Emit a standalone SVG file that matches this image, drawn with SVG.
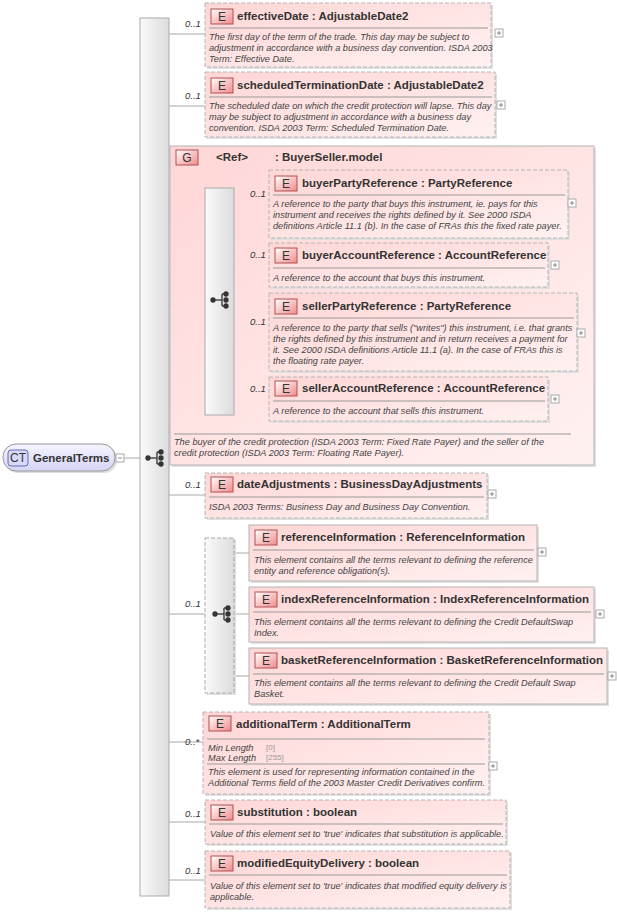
<svg xmlns="http://www.w3.org/2000/svg" width="617" height="914" viewBox="0 0 617 914">
<defs>
<linearGradient id="pk" x1="0" y1="0" x2="1" y2="1"><stop offset="0" stop-color="#ffd6d6"/><stop offset="1" stop-color="#fff1f1"/></linearGradient>
<linearGradient id="bar" x1="0" y1="0" x2="1" y2="0"><stop offset="0" stop-color="#fafafa"/><stop offset="1" stop-color="#dcdcdc"/></linearGradient>
<linearGradient id="eb" x1="0" y1="0" x2="1" y2="1"><stop offset="0" stop-color="#fff"/><stop offset="1" stop-color="#f08a8a"/></linearGradient>
<linearGradient id="ct" x1="0" y1="0" x2="0" y2="1"><stop offset="0" stop-color="#f4f4ff"/><stop offset="1" stop-color="#d4d4f6"/></linearGradient>
<g id="seq"><circle cx="-7" cy="0" r="2"/><line x1="-7" y1="0" x2="2" y2="0"/><line x1="2" y1="-6" x2="2" y2="6"/><line x1="2" y1="-6" x2="6" y2="-6"/><line x1="2" y1="6" x2="6" y2="6"/><circle cx="6" cy="-6" r="2"/><circle cx="6" cy="0" r="2"/><circle cx="6" cy="6" r="2"/></g>
<g id="plus"><rect x="0" y="0" width="8" height="8" fill="#fff" stroke="#aaa"/><line x1="2" y1="4" x2="6" y2="4" stroke="#888"/><line x1="4" y1="2" x2="4" y2="6" stroke="#888"/></g>
</defs>
<style>
.box{fill:url(#pk);stroke:#b4b4b4;stroke-dasharray:4 2}
.sbox{fill:url(#pk);stroke:#b4b4b4}
.sh{fill:#e0e0e0}
.badge{fill:url(#eb);stroke:#b05050}
.bt{font:12px "Liberation Sans",Arial,sans-serif;fill:#333;text-anchor:middle}
.t{font:bold 11.5px "Liberation Sans",Arial,sans-serif;fill:#333}
.d{font:italic 9.2px "Liberation Sans",Arial,sans-serif;fill:#444}
.m{font:italic 9.5px "Liberation Sans",Arial,sans-serif;fill:#333}
.sep{stroke:#999}
.c line{stroke:#a8a8a8}
.ic{fill:#333;stroke:#333;stroke-width:1.3}
</style>
<g class="c">
<line x1="124" y1="458" x2="140" y2="458"/>
<line x1="169" y1="34" x2="205" y2="34"/>
<line x1="169" y1="106" x2="205" y2="106"/>
<line x1="169" y1="305" x2="170" y2="305"/>
<line x1="234" y1="204" x2="269" y2="204"/>
<line x1="234" y1="265" x2="269" y2="265"/>
<line x1="234" y1="333" x2="269" y2="333"/>
<line x1="234" y1="400" x2="269" y2="400"/>
<line x1="169" y1="495" x2="205" y2="495"/>
<line x1="169" y1="614" x2="205" y2="614"/>
<line x1="234" y1="553" x2="249" y2="553"/>
<line x1="234" y1="614" x2="249" y2="614"/>
<line x1="234" y1="676" x2="249" y2="676"/>
<line x1="169" y1="742" x2="203" y2="742"/>
<line x1="169" y1="822" x2="205" y2="822"/>
<line x1="169" y1="880" x2="205" y2="880"/>
</g>
<g id="GeneralTerms">
<rect x="5" y="446" width="112" height="27" rx="13" fill="#ddd"/>
<rect x="3" y="444" width="112" height="27" rx="13" fill="url(#ct)" stroke="#999"/>
<rect x="8" y="450" width="20" height="16" rx="3" fill="#d8d8fa" stroke="#6a6ab0"/>
<text x="18" y="462" class="bt">CT</text>
<text x="33" y="462" class="t">GeneralTerms</text>
<rect x="116" y="454" width="8" height="8" fill="#fff" stroke="#aaa"/><line x1="118" y1="458" x2="122" y2="458" stroke="#888"/>
</g>
<g id="mainSeq">
<rect x="140" y="18" width="29" height="878" fill="url(#bar)" stroke="#aaa"/>
<use href="#seq" x="155" y="458" class="ic"/>
</g>
<g id="effectiveDate">
<rect x="207" y="5" width="286" height="64" class="sh"/>
<rect x="205" y="3" width="286" height="64" class="box"/>
<rect x="211" y="9" width="22" height="15" class="badge"/><text x="222" y="21" class="bt">E</text>
<text x="237" y="20" class="t">effectiveDate  : AdjustableDate2</text>
<line x1="209" y1="28" x2="488" y2="28" class="sep"/>
<text class="d"><tspan x="209" y="40">The first day of the term of the trade. This day may be subject to</tspan><tspan x="209" y="51">adjustment in accordance with a business day convention. ISDA 2003</tspan><tspan x="209" y="62">Term: Effective Date.</tspan></text>
<use href="#plus" x="495" y="29"/>
<text x="185" y="27" class="m">0..1</text>
</g>
<g id="scheduledTerminationDate">
<rect x="207" y="74" width="290" height="65" class="sh"/>
<rect x="205" y="72" width="290" height="65" class="box"/>
<rect x="211" y="78" width="22" height="15" class="badge"/><text x="222" y="90" class="bt">E</text>
<text x="237" y="89" class="t">scheduledTerminationDate  : AdjustableDate2</text>
<line x1="209" y1="97" x2="492" y2="97" class="sep"/>
<text class="d"><tspan x="209" y="109">The scheduled date on which the credit protection will lapse. This day</tspan><tspan x="209" y="120">may be subject to adjustment in accordance with a business day</tspan><tspan x="209" y="131">convention. ISDA 2003 Term: Scheduled Termination Date.</tspan></text>
<use href="#plus" x="497" y="101"/>
<text x="185" y="99" class="m">0..1</text>
</g>
<g id="BuyerSellerModel">
<rect x="172" y="148" width="424" height="319" class="sh"/>
<rect x="170" y="146" width="424" height="319" class="sbox"/>
<rect x="176" y="150" width="22" height="15" class="badge"/><text x="187" y="162" class="bt">G</text>
<text x="216" y="161" class="t">&lt;Ref&gt;</text><text x="275" y="161" class="t">: BuyerSeller.model</text>
<line x1="174" y1="434" x2="571" y2="434" class="sep"/>
<text class="d"><tspan x="174" y="445">The buyer of the credit protection (ISDA 2003 Term: Fixed Rate Payer) and the seller of the</tspan><tspan x="174" y="456">credit protection (ISDA 2003 Term: Floating Rate Payer).</tspan></text>
<rect x="205" y="188" width="29" height="227" fill="url(#bar)" stroke="#aaa"/>
<use href="#seq" x="220" y="300" class="ic"/>
</g>
<g id="buyerPartyReference">
<rect x="271" y="172" width="299" height="68" class="sh"/>
<rect x="269" y="170" width="299" height="68" class="box"/>
<rect x="275" y="176" width="22" height="15" class="badge"/><text x="286" y="188" class="bt">E</text>
<text x="302" y="187" class="t">buyerPartyReference  : PartyReference</text>
<line x1="273" y1="195" x2="565" y2="195" class="sep"/>
<text class="d"><tspan x="273" y="207">A reference to the party that buys this instrument, ie. pays for this</tspan><tspan x="273" y="218">instrument and receives the rights defined by it. See 2000 ISDA</tspan><tspan x="273" y="229">definitions Article 11.1 (b). In the case of FRAs this the fixed rate payer.</tspan></text>
<use href="#plus" x="568" y="199"/>
<text x="250" y="197" class="m">0..1</text>
</g>
<g id="buyerAccountReference">
<rect x="271" y="245" width="279" height="44" class="sh"/>
<rect x="269" y="243" width="279" height="44" class="box"/>
<rect x="275" y="248" width="22" height="15" class="badge"/><text x="286" y="260" class="bt">E</text>
<text x="302" y="259" class="t">buyerAccountReference  : AccountReference</text>
<line x1="273" y1="268" x2="545" y2="268" class="sep"/>
<text class="d"><tspan x="273" y="281">A reference to the account that buys this instrument.</tspan></text>
<use href="#plus" x="551" y="261"/>
<text x="250" y="258" class="m">0..1</text>
</g>
<g id="sellerPartyReference">
<rect x="271" y="295" width="308" height="78" class="sh"/>
<rect x="269" y="293" width="308" height="78" class="box"/>
<rect x="275" y="299" width="22" height="15" class="badge"/><text x="286" y="311" class="bt">E</text>
<text x="302" y="310" class="t">sellerPartyReference  : PartyReference</text>
<line x1="273" y1="318" x2="574" y2="318" class="sep"/>
<text class="d"><tspan x="273" y="331">A reference to the party that sells ("writes") this instrument, i.e. that grants</tspan><tspan x="273" y="342">the rights defined by this instrument and in return receives a payment for</tspan><tspan x="273" y="353">it. See 2000 ISDA definitions Article 11.1 (a). In the case of FRAs this is</tspan><tspan x="273" y="364">the floating rate payer.</tspan></text>
<use href="#plus" x="577" y="329"/>
<text x="250" y="325" class="m">0..1</text>
</g>
<g id="sellerAccountReference">
<rect x="271" y="379" width="279" height="44" class="sh"/>
<rect x="269" y="377" width="279" height="44" class="box"/>
<rect x="275" y="381" width="22" height="15" class="badge"/><text x="286" y="393" class="bt">E</text>
<text x="302" y="392" class="t">sellerAccountReference  : AccountReference</text>
<line x1="273" y1="401" x2="545" y2="401" class="sep"/>
<text class="d"><tspan x="273" y="414">A reference to the account that sells this instrument.</tspan></text>
<use href="#plus" x="551" y="395"/>
<text x="250" y="392" class="m">0..1</text>
</g>
<g id="dateAdjustments">
<rect x="207" y="475" width="282" height="45" class="sh"/>
<rect x="205" y="473" width="282" height="45" class="box"/>
<rect x="211" y="477" width="22" height="15" class="badge"/><text x="222" y="489" class="bt">E</text>
<text x="237" y="488" class="t">dateAdjustments  : BusinessDayAdjustments</text>
<line x1="209" y1="497" x2="484" y2="497" class="sep"/>
<text class="d"><tspan x="209" y="510">ISDA 2003 Terms: Business Day and Business Day Convention.</tspan></text>
<use href="#plus" x="488" y="490"/>
<text x="185" y="488" class="m">0..1</text>
</g>
<g id="choice">
<rect x="207" y="540" width="29" height="155" class="sh"/>
<rect x="205" y="538" width="29" height="155" fill="url(#bar)" stroke="#aaa" stroke-dasharray="4 2"/>
<use href="#seq" x="222" y="614" class="ic"/>
<text x="185" y="607" class="m">0..1</text>
</g>
<g id="referenceInformation">
<rect x="251" y="527" width="288" height="56" class="sh"/>
<rect x="249" y="525" width="288" height="56" class="sbox"/>
<rect x="255" y="530" width="22" height="15" class="badge"/><text x="266" y="542" class="bt">E</text>
<text x="281" y="541" class="t">referenceInformation  : ReferenceInformation</text>
<line x1="253" y1="550" x2="534" y2="550" class="sep"/>
<text class="d"><tspan x="254" y="563">This element contains all the terms relevant to defining the reference</tspan><tspan x="254" y="574">entity and reference obligation(s).</tspan></text>
<use href="#plus" x="538" y="548"/>
</g>
<g id="indexReferenceInformation">
<rect x="251" y="589" width="345" height="55" class="sh"/>
<rect x="249" y="587" width="345" height="55" class="sbox"/>
<rect x="255" y="592" width="22" height="15" class="badge"/><text x="266" y="604" class="bt">E</text>
<text x="281" y="603" class="t">indexReferenceInformation  : IndexReferenceInformation</text>
<line x1="253" y1="612" x2="591" y2="612" class="sep"/>
<text class="d"><tspan x="254" y="625">This element contains all the terms relevant to defining the Credit DefaultSwap</tspan><tspan x="254" y="636">Index.</tspan></text>
<use href="#plus" x="596" y="610"/>
</g>
<g id="basketReferenceInformation">
<rect x="251" y="650" width="358" height="56" class="sh"/>
<rect x="249" y="648" width="358" height="56" class="sbox"/>
<rect x="255" y="653" width="22" height="15" class="badge"/><text x="266" y="665" class="bt">E</text>
<text x="281" y="664" class="t">basketReferenceInformation  : BasketReferenceInformation</text>
<line x1="253" y1="674" x2="604" y2="674" class="sep"/>
<text class="d"><tspan x="254" y="686">This element contains all the terms relevant to defining the Credit Default Swap</tspan><tspan x="254" y="697">Basket.</tspan></text>
<use href="#plus" x="608" y="672"/>
</g>
<g id="additionalTerm">
<rect x="205" y="714" width="286" height="82" class="sh"/>
<rect x="203" y="712" width="286" height="82" class="box"/>
<rect x="209" y="716" width="22" height="15" class="badge"/><text x="220" y="728" class="bt">E</text>
<text x="236" y="728" class="t">additionalTerm  : AdditionalTerm</text>
<line x1="207" y1="739" x2="485" y2="739" class="sep"/>
<text class="d"><tspan x="208" y="751">Min Length</tspan><tspan x="208" y="761">Max Length</tspan></text>
<text style="font:8px 'Liberation Sans',Arial,sans-serif;fill:#999"><tspan x="266" y="750">[0]</tspan><tspan x="266" y="760">[255]</tspan></text>
<line x1="207" y1="764" x2="485" y2="764" class="sep"/>
<text class="d"><tspan x="208" y="775">This element is used for representing information contained in the</tspan><tspan x="208" y="786">Additional Terms field of the 2003 Master Credit Derivatives confirm.</tspan></text>
<use href="#plus" x="489" y="762"/>
<text x="185" y="745" class="m">0..*</text>
</g>
<g id="substitution">
<rect x="207" y="802" width="301" height="44" class="sh"/>
<rect x="205" y="800" width="301" height="44" class="box"/>
<rect x="211" y="805" width="22" height="15" class="badge"/><text x="222" y="817" class="bt">E</text>
<text x="237" y="816" class="t">substitution  : boolean</text>
<line x1="209" y1="824" x2="503" y2="824" class="sep"/>
<text class="d"><tspan x="210" y="837">Value of this element set to 'true' indicates that substitution is applicable.</tspan></text>
<text x="185" y="817" class="m">0..1</text>
</g>
<g id="modifiedEquityDelivery">
<rect x="207" y="853" width="305" height="57" class="sh"/>
<rect x="205" y="851" width="305" height="57" class="box"/>
<rect x="211" y="856" width="22" height="15" class="badge"/><text x="222" y="868" class="bt">E</text>
<text x="237" y="867" class="t">modifiedEquityDelivery  : boolean</text>
<line x1="209" y1="875" x2="507" y2="875" class="sep"/>
<text class="d"><tspan x="210" y="889">Value of this element set to 'true' indicates that modified equity delivery is</tspan><tspan x="210" y="900">applicable.</tspan></text>
<text x="185" y="874" class="m">0..1</text>
</g>
</svg>
